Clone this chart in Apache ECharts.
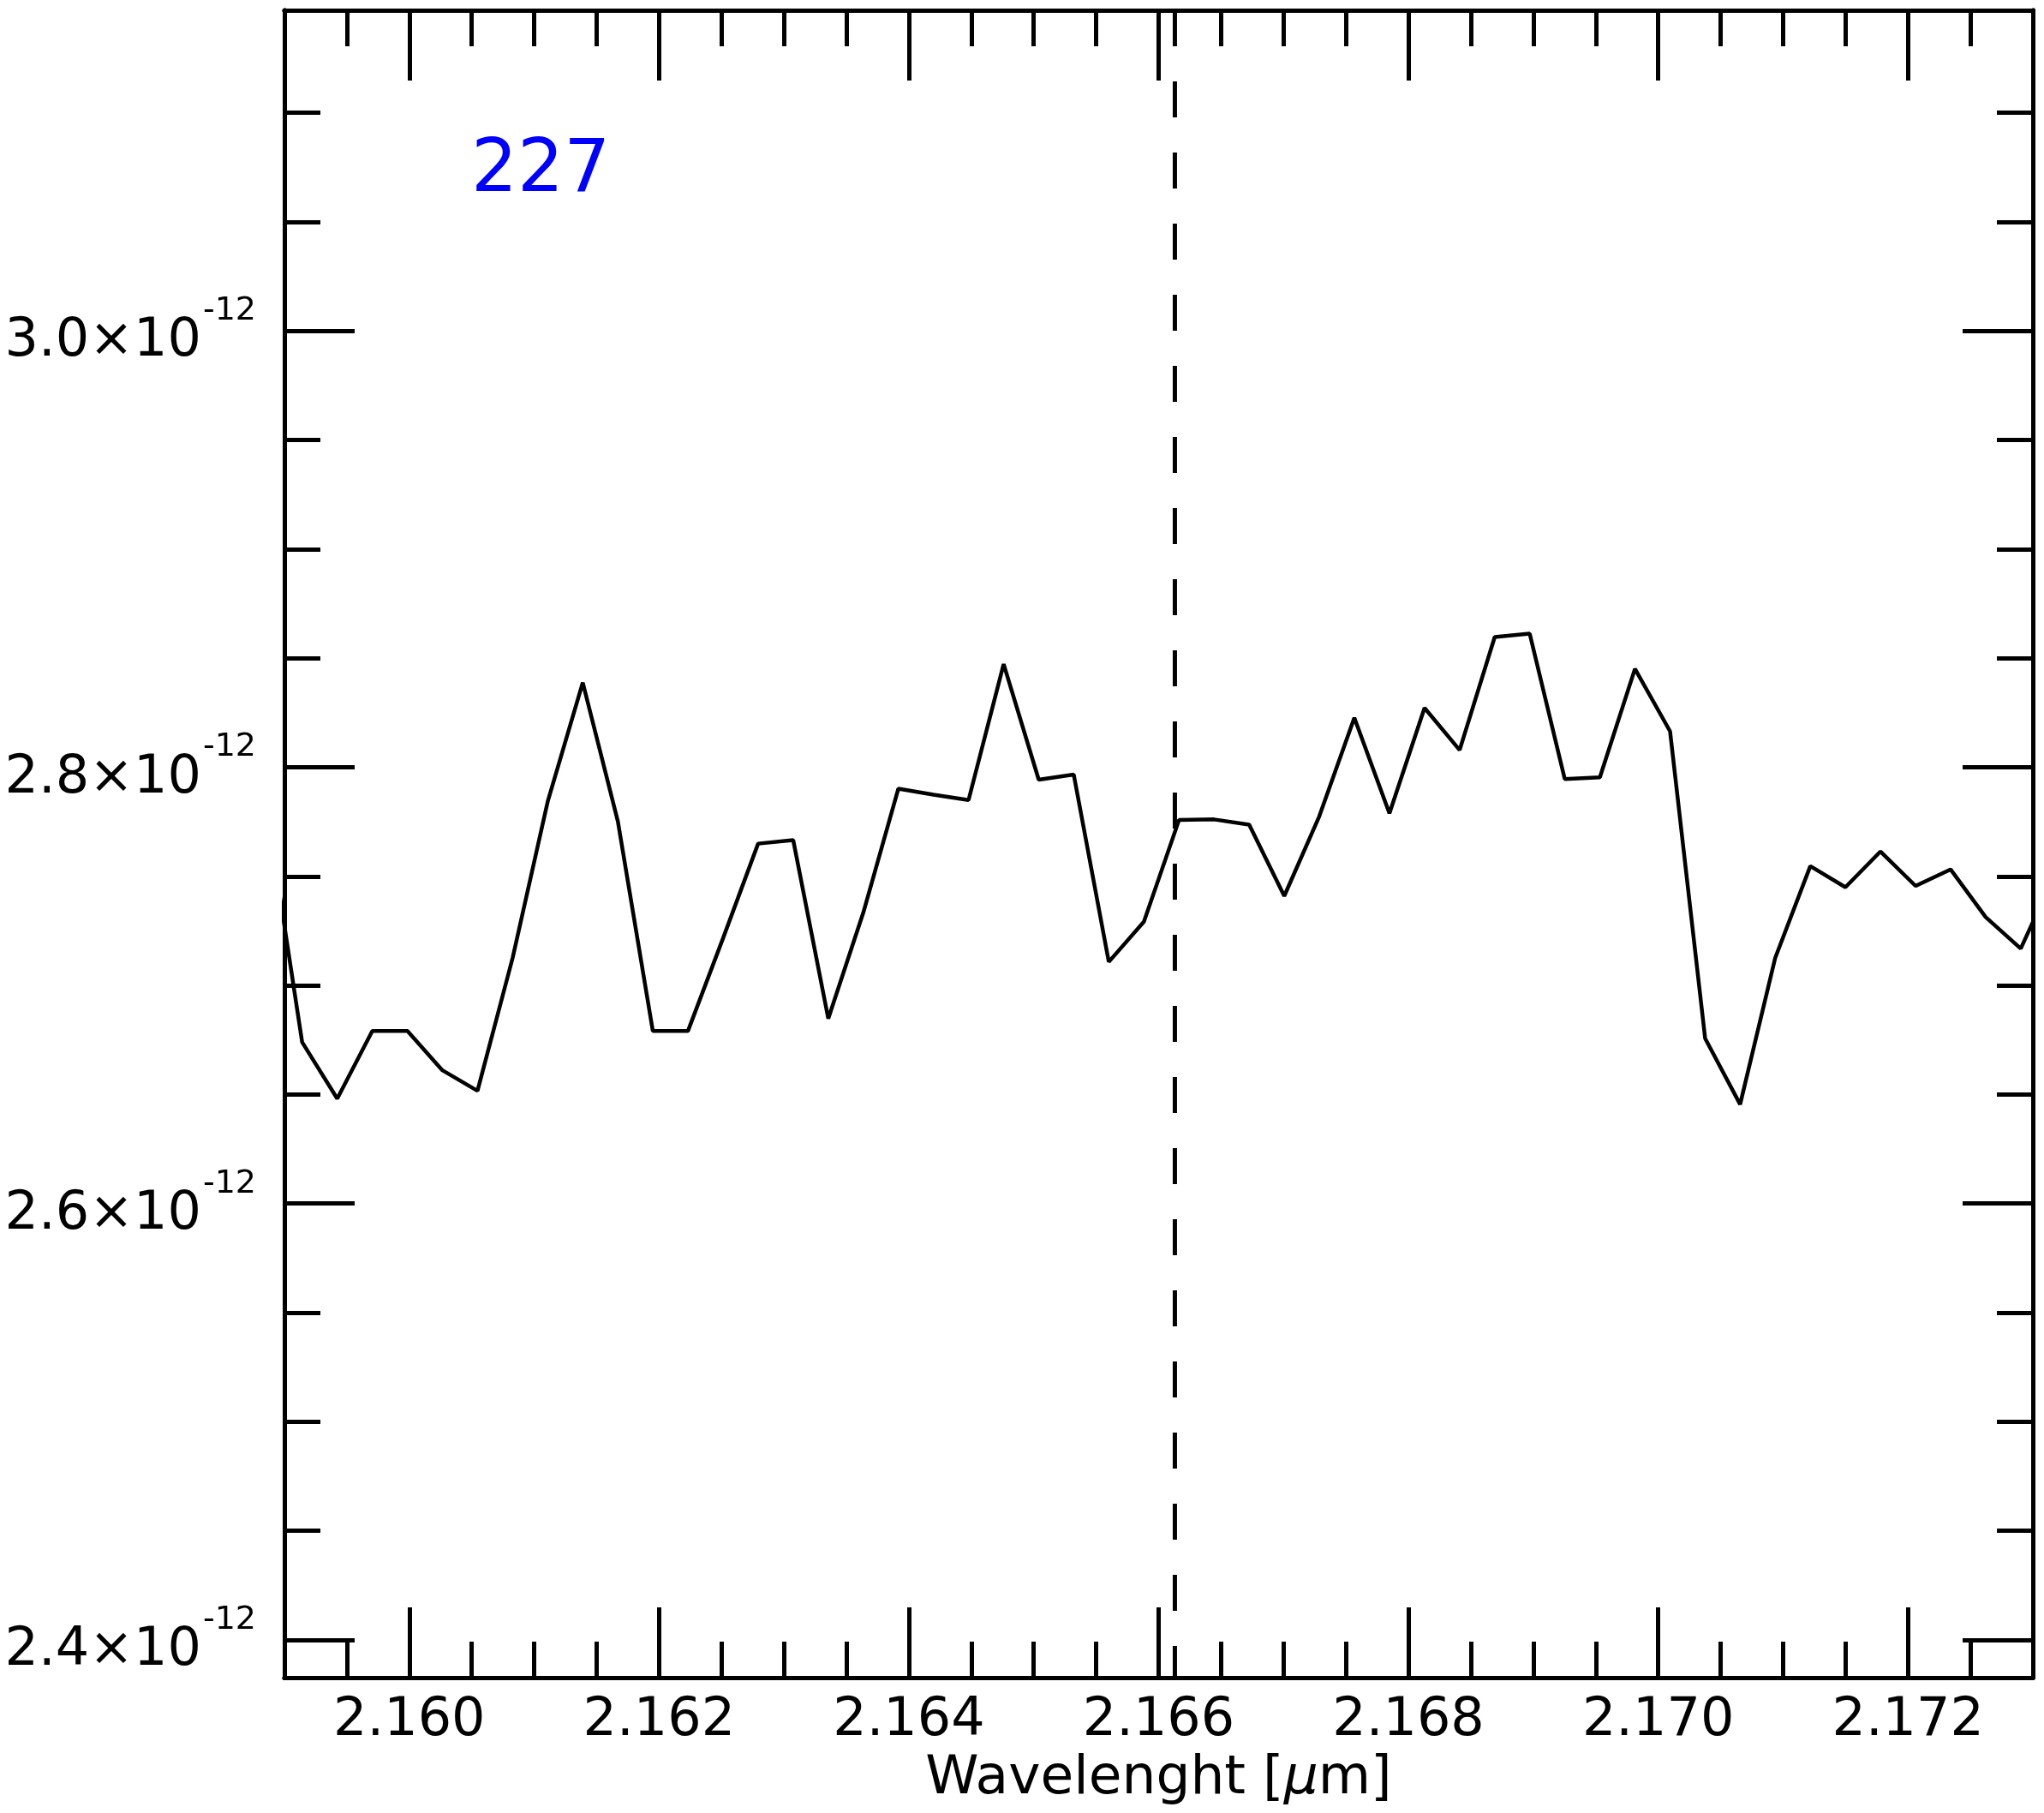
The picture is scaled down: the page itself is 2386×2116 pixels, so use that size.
<!DOCTYPE html>
<html>
<head>
<meta charset="utf-8">
<script src="https://cdn.jsdelivr.net/npm/echarts@6/dist/echarts.min.js"></script>
<style>
html,body{margin:0;padding:0;background:#fff;}
#chart{width:2386px;height:2116px;}
</style>
</head>
<body>
<div id="chart"></div>
<script>
// Wavelength in micrometres
const wavelength = [
  2.158861,
  2.159142, 2.159423, 2.159704, 2.159985, 2.160265, 2.160546, 2.160827, 2.161108, 2.161389, 2.161670,
  2.161950, 2.162231, 2.162512, 2.162793, 2.163074, 2.163355, 2.163636, 2.163916, 2.164197, 2.164478,
  2.164759, 2.165040, 2.165320, 2.165601, 2.165882, 2.166163, 2.166444, 2.166725, 2.167006, 2.167286,
  2.167567, 2.167848, 2.168129, 2.168410, 2.168691, 2.168971, 2.169252, 2.169533, 2.169814, 2.170095,
  2.170376, 2.170656, 2.170937, 2.171218, 2.171499, 2.171780, 2.172061, 2.172341, 2.172622, 2.172903,
  2.173184
];
// Flux in units of 1e-12
const flux = [
  2.7796,
  2.6740, 2.6481, 2.6791, 2.6791, 2.6611, 2.6517, 2.7125, 2.7842, 2.8388, 2.7752,
  2.6791, 2.6791, 2.7216, 2.7650, 2.7666, 2.6848, 2.7335, 2.7902, 2.7874, 2.7850,
  2.8473, 2.7943, 2.7967, 2.7108, 2.7292, 2.7758, 2.7761, 2.7737, 2.7410, 2.7775,
  2.8227, 2.7789, 2.8272, 2.8079, 2.8597, 2.8613, 2.7946, 2.7954, 2.8451, 2.8165,
  2.6757, 2.6455, 2.7126, 2.7547, 2.7450, 2.7614, 2.7456, 2.7532, 2.7313, 2.7169,
  2.7520
];
const fluxExponent = -12;
const lineCenter = 2.16613;
const labelText = '227';
const xRange = [2.159, 2.173];
const yRange = [2.3827, 3.147];
const xMajorTicks = [2.160, 2.162, 2.164, 2.166, 2.168, 2.170, 2.172];
const xMinorTicks = [2.1595, 2.1600, 2.1605, 2.1610, 2.1615, 2.1620, 2.1625, 2.1630, 2.1635, 2.1640,
  2.1645, 2.1650, 2.1655, 2.1660, 2.1665, 2.1670, 2.1675, 2.1680, 2.1685, 2.1690, 2.1695, 2.1700,
  2.1705, 2.1710, 2.1715, 2.1720, 2.1725];
const yMajorTicks = [2.4, 2.6, 2.8, 3.0];
const yMinorTicks = [2.40, 2.45, 2.50, 2.55, 2.60, 2.65, 2.70, 2.75, 2.80, 2.85, 2.90, 2.95, 3.00, 3.05, 3.10];
const xTitle = 'Wavelenght [';
const xTitleUnit = 'μ';
const xTitleEnd = 'm]';

const FONT = 'DejaVu Sans';
const chart = echarts.init(document.getElementById('chart'), null, {renderer: 'canvas'});

function xAxisDef(pos, ticks, len, showLabel) {
  return {
    type: 'value', position: pos, min: xRange[0], max: xRange[1],
    splitLine: {show: false},
    axisLine: {show: true, onZero: false, lineStyle: {color: '#000', width: 5}},
    axisTick: {show: true, inside: true, length: len, customValues: ticks, lineStyle: {color: '#000', width: 5}},
    axisLabel: showLabel ? {
      show: true, customValues: xMajorTicks, margin: 20, color: '#000',
      fontFamily: FONT, fontSize: 62,
      formatter: v => v.toFixed(3)
    } : {show: false}
  };
}
function yAxisDef(pos, ticks, len, showLabel) {
  return {
    type: 'value', position: pos, min: yRange[0], max: yRange[1],
    splitLine: {show: false},
    axisLine: {show: true, onZero: false, lineStyle: {color: '#000', width: 5}},
    axisTick: {show: true, inside: true, length: len, customValues: ticks, lineStyle: {color: '#000', width: 5}},
    axisLabel: showLabel ? {
      show: true, customValues: yMajorTicks, margin: 33, color: '#000',
      formatter: v => '{b|' + v.toFixed(1) + '×10}{s|' + fluxExponent + '}',
      rich: {
        b: {fontFamily: FONT, fontSize: 62, color: '#000', verticalAlign: 'bottom'},
        s: {fontFamily: FONT, fontSize: 38, color: '#000', padding: [2, 0, 48, 2], verticalAlign: 'bottom'}
      }
    } : {show: false}
  };
}

const xAxes = [
  xAxisDef('bottom', xMajorTicks, 82, true),
  xAxisDef('bottom', xMinorTicks, 42, false),
  xAxisDef('top', xMajorTicks, 82, false),
  xAxisDef('top', xMinorTicks, 42, false)
];
xAxes[0].name = '{t|' + xTitle + '}{i|' + xTitleUnit + '}{t|' + xTitleEnd + '}';
xAxes[0].nameLocation = 'middle';
xAxes[0].nameGap = 80;
xAxes[0].nameTextStyle = {
  rich: {
    t: {fontFamily: FONT, fontSize: 63, color: '#000'},
    i: {fontFamily: FONT, fontSize: 63, fontStyle: 'italic', color: '#000'}
  }
};

const yAxes = [
  yAxisDef('left', yMajorTicks, 82, true),
  yAxisDef('left', yMinorTicks, 42, false),
  yAxisDef('right', yMajorTicks, 82, false),
  yAxisDef('right', yMinorTicks, 42, false)
];

chart.setOption({
  animation: false,
  backgroundColor: '#fff',
  grid: {left: 332, right: 13, top: 12, bottom: 158, show: false, containLabel: false, outerBoundsMode: 'none'},
  xAxis: xAxes,
  yAxis: yAxes,
  graphic: [{
    type: 'text', left: 550, top: 158, z: 10,
    style: {text: labelText, fill: '#0000ff', fontFamily: FONT, fontSize: 85}
  }],
  series: [{
    type: 'line',
    xAxisIndex: 0, yAxisIndex: 0,
    data: wavelength.map((w, i) => [w, flux[i]]),
    showSymbol: false, symbol: 'none',
    clip: true,
    lineStyle: {color: '#000', width: 4.5}
  }, {
    type: 'line',
    xAxisIndex: 0, yAxisIndex: 0,
    data: [[lineCenter, yRange[1]], [lineCenter, yRange[0]]],
    showSymbol: false, symbol: 'none',
    clip: true, silent: true,
    lineStyle: {color: '#000', width: 5, type: [42, 41], dashOffset: 0}
  }]
});
</script>
</body>
</html>
